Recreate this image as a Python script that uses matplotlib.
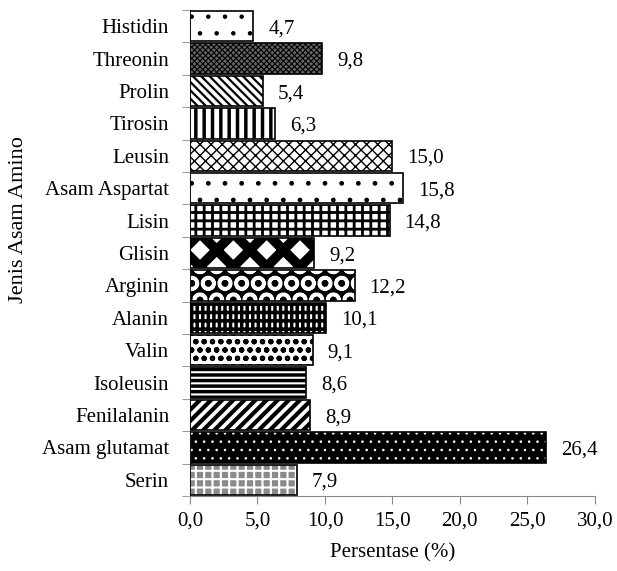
import matplotlib
matplotlib.use("Agg")
import matplotlib.pyplot as plt
import numpy as np

# data, top to bottom as in the chart
amino = ["Histidin", "Threonin", "Prolin", "Tirosin", "Leusin", "Asam Aspartat",
         "Lisin", "Glisin", "Arginin", "Alanin", "Valin", "Isoleusin",
         "Fenilalanin", "Asam glutamat", "Serin"]
persen = [4.7, 9.8, 5.4, 6.3, 15.0, 15.8, 14.8, 9.2, 12.2, 10.1, 9.1, 8.6, 8.9, 26.4, 7.9]
xticks = [0, 5, 10, 15, 20, 25, 30]

# (face colour, hatch, hatch colour, hatch width) per bar
styles = [
    ("white", ".", "black", 0.8),
    ("#666666", "xxxxxx", "black", 0.8),
    ("white", "\\\\\\\\", "black", 1.6),
    ("white", "||", "black", 2.5),
    ("white", "xxx", "black", 1.0),
    ("white", ".", "black", 1.0),
    ("white", "++", "black", 2.0),
    ("white", "x", "black", 7.0),
    ("black", "O", "white", 2.5),
    ("white", "++|", "black", 2.5),
    ("white", "oo", "black", 1.5),
    ("white", "---", "black", 2.5),
    ("white", "///", "black", 3.0),
    ("black", "..", "white", 0.6),
    ("#8a8a8a", "++", "white", 1.5),
]

plt.rcParams['font.family'] = ['Liberation Serif', 'DejaVu Serif']

fig = plt.figure(figsize=(6.17, 5.71), dpi=100)
ax = fig.add_axes([0.308, 0.1314, 0.656, 0.851])

y = np.arange(len(amino))
for i in range(len(amino)):
    fc, h, hc, hw = styles[i]
    ax.barh(y[i], persen[i], height=0.94, color=fc, linewidth=0, zorder=2)
    with plt.rc_context({'hatch.linewidth': hw}):
        ax.barh(y[i], persen[i], height=0.94, color="none", hatch=h,
                edgecolor=hc, linewidth=0, zorder=3)
    ax.barh(y[i], persen[i], height=0.94, color="none",
            edgecolor="black", linewidth=1.2, zorder=4)
    ax.text(persen[i] + 1.1, y[i] + 0.08, f"{persen[i]:.1f}".replace(".", ","),
            va="center", ha="left", fontsize=15)

ax.set_ylim(len(amino) - 0.5, -0.5)
ax.set_xlim(0, 30)
ax.set_yticks(y)
ax.set_yticklabels(amino, fontsize=15)
ax.set_yticks(np.arange(-0.5, len(amino), 1), minor=True)
ax.tick_params(axis="y", which="major", length=0, pad=15)
ax.tick_params(axis="y", which="minor", length=6, color="#888888", direction="out")
ax.set_xticks(xticks)
ax.set_xticklabels([f"{v:.1f}".replace(".", ",") for v in xticks], fontsize=15)
ax.tick_params(axis="x", length=6, color="#888888", pad=5)

for s in ["top", "right"]:
    ax.spines[s].set_visible(False)
for s in ["left", "bottom"]:
    ax.spines[s].set_color("#888888")

ax.set_xlabel("Persentase (%)", fontsize=15, labelpad=9)
ax.set_ylabel("Jenis Asam Amino", fontsize=16)
ax.yaxis.set_label_coords(-0.40, 0.568)

fig.savefig("out.png", dpi=100)
